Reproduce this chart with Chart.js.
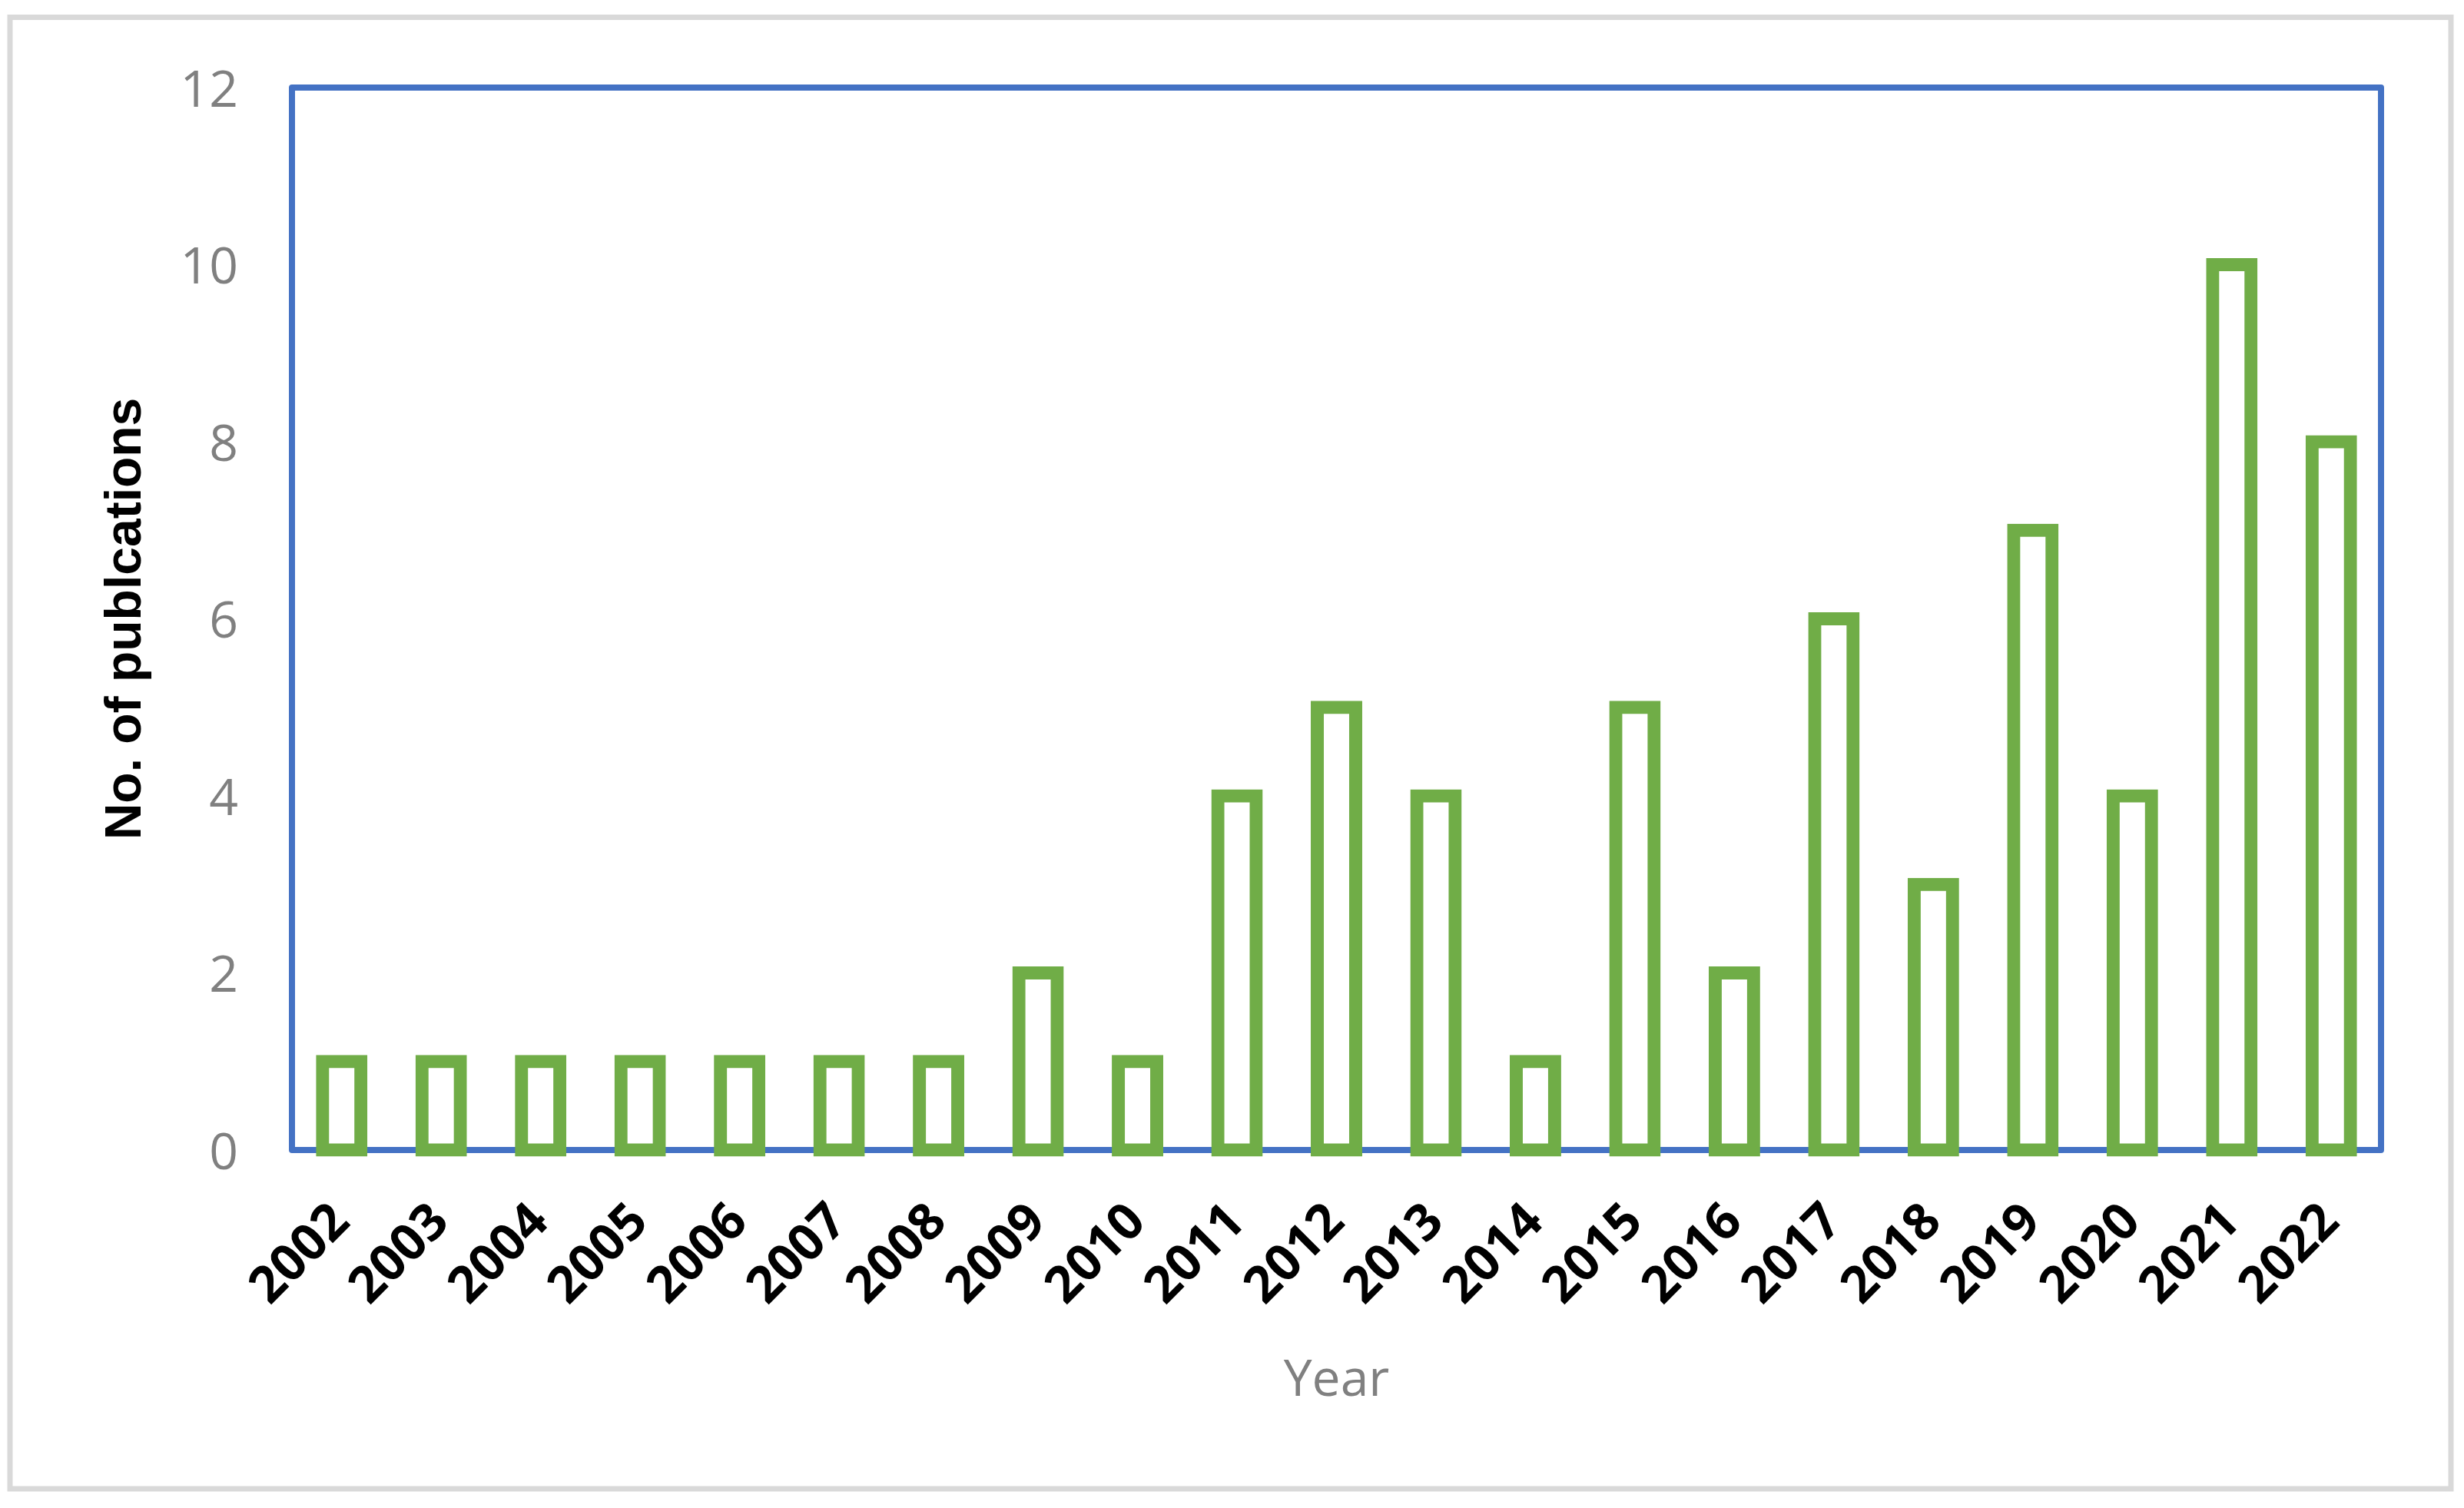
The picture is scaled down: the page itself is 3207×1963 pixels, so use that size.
<!DOCTYPE html>
<html>
<head>
<meta charset="utf-8">
<script src="https://cdn.jsdelivr.net/npm/chart.js@4/dist/chart.umd.min.js"></script>
<style>
  html, body { margin: 0; padding: 0; background: #ffffff; }
  canvas { display: block; }
</style>
</head>
<body>
<canvas id="c" width="3207" height="1963"></canvas>
<script>
const years = ['2002','2003','2004','2005','2006','2007','2008','2009','2010','2011','2012','2013','2014','2015','2016','2017','2018','2019','2020','2021','2022'];
const publications = [1,1,1,1,1,1,1,2,1,4,5,4,1,5,2,6,3,7,4,10,8];
const yTicks = [0,2,4,6,8,10,12];
const xTitle = 'Year';
const yTitle = 'No. of publcations';

const framePlugin = {
  id: 'frames',
  beforeDraw(chart) {
    const ctx = chart.ctx;
    ctx.save();
    ctx.fillStyle = '#ffffff';
    ctx.fillRect(0, 0, chart.width, chart.height);
    ctx.strokeStyle = '#d9d9d9';
    ctx.lineWidth = 7;
    ctx.strokeRect(13, 22.5, 3190 - 13, 1938 - 22.5);
    ctx.restore();
  },
  beforeDatasetsDraw(chart) {
    const a = chart.chartArea;
    const ctx = chart.ctx;
    ctx.save();
    ctx.strokeStyle = '#4472C4';
    ctx.lineWidth = 8;
    ctx.lineJoin = 'round';
    ctx.strokeRect(a.left, a.top, a.right - a.left, a.bottom - a.top);
    ctx.restore();
  }
};

new Chart(document.getElementById('c'), {
  type: 'bar',
  data: {
    labels: years,
    datasets: [{
      data: publications,
      backgroundColor: '#ffffff',
      borderColor: '#70AD47',
      borderWidth: 17,
      borderSkipped: false,
      inflateAmount: 8.5,
      barPercentage: 0.386,
      categoryPercentage: 1.0,
      clip: false
    }]
  },
  options: {
    responsive: false,
    animation: false,
    devicePixelRatio: 1,
    layout: { padding: { left: 0, top: 114, right: 108, bottom: 0 } },
    plugins: {
      legend: { display: false },
      tooltip: { enabled: false },
      title: { display: false }
    },
    scales: {
      x: {
        grid: { display: false, drawTicks: false },
        border: { display: false },
        ticks: {
          maxRotation: 45,
          minRotation: 45,
          autoSkip: false,
          padding: 55,
          color: '#000000',
          font: { family: 'Open Sans', weight: 'bold', size: 66 }
        },
        title: {
          display: true,
          text: xTitle,
          color: '#808080',
          font: { family: 'Open Sans', size: 66 },
          padding: { top: 0, bottom: 125 }
        },
        afterFit(scale) { scale.height = 1963 - 1497; }
      },
      y: {
        min: 0,
        max: 12,
        afterBuildTicks(scale) { scale.ticks = yTicks.map(v => ({ value: v })); },
        grid: { display: false, drawTicks: false },
        border: { display: false },
        ticks: {
          padding: 70,
          labelOffset: 6,
          color: '#808080',
          font: { family: 'Open Sans', size: 66 }
        },
        title: {
          display: true,
          text: yTitle,
          color: '#000000',
          font: { family: 'Liberation Sans', weight: 'bold', size: 66 },
          padding: { top: 125, bottom: 0 }
        },
        afterFit(scale) { scale.width = 380; }
      }
    }
  },
  plugins: [framePlugin]
});
</script>
</body>
</html>
